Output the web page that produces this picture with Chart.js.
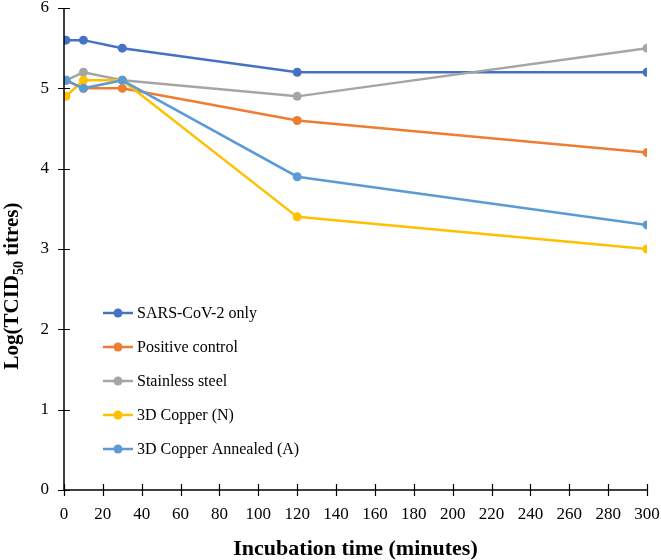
<!DOCTYPE html>
<html>
<head>
<meta charset="utf-8">
<script src="https://cdn.jsdelivr.net/npm/chart.js@4.4.1/dist/chart.umd.min.js"></script>
<style>
  html, body { margin: 0; padding: 0; background: #fff; }
  #wrap { width: 661px; height: 560px; }
</style>
</head>
<body>
<div id="wrap"><canvas id="chart" width="661" height="560"></canvas></div>
<script>
// incubation times (minutes)
const times = [1, 10, 30, 120, 300];

const seriesNames = ['SARS-CoV-2 only', 'Positive control', 'Stainless steel', '3D Copper (N)', '3D Copper Annealed (A)'];
const sarsOnly   = [5.6, 5.6, 5.5, 5.2, 5.2];
const positive   = [5.1, 5.0, 5.0, 4.6, 4.2];
const stainless  = [5.1, 5.2, 5.1, 4.9, 5.5];
const copperN    = [4.9, 5.1, 5.1, 3.4, 3.0];
const copperA    = [5.1, 5.0, 5.1, 3.9, 3.3];
const colors = ['#4472C4', '#ED7D31', '#A5A5A5', '#FFC000', '#5B9BD5'];

const serif = "'Liberation Serif', 'Times New Roman', serif";

function toPoints(vals) {
    return vals.map((v, i) => ({ x: times[i], y: v }));
}

const allSeries = [sarsOnly, positive, stainless, copperN, copperA];
// later datasets drawn on top
const datasets = allSeries.map((vals, i) => ({
    label: seriesNames[i],
    data: toPoints(vals),
    borderColor: colors[i],
    backgroundColor: colors[i],
    borderWidth: 2.5,
    pointRadius: 4.5,
    pointHoverRadius: 4.5,
    pointBorderWidth: 0,
    tension: 0,
    order: 5 - i
}));

// no automatic label overhang, chart area fixed by layout padding
function fixScale(s, size) {
    if (s.isHorizontal()) s.height = size; else s.width = size;
    s.paddingTop = 0;
    s.paddingBottom = 0;
    s.paddingLeft = 0;
    s.paddingRight = 0;
}

// axis lines, cross ticks, inside legend, axis titles
const decorations = {
    id: 'decorations',
    afterDraw(chart) {
        const ctx = chart.ctx;
        const area = chart.chartArea;
        const xs = chart.scales.x, ys = chart.scales.y;
        ctx.save();
        ctx.strokeStyle = '#000';
        ctx.lineWidth = 1.5;
        ctx.beginPath();
        ctx.moveTo(area.left, area.top);
        ctx.lineTo(area.left, area.bottom);
        ctx.lineTo(area.right, area.bottom);
        ctx.stroke();
        ctx.lineWidth = 1.2;
        ctx.beginPath();
        xs.ticks.forEach(t => {
            const px = Math.round(xs.getPixelForValue(t.value)) + 0.5;
            ctx.moveTo(px, area.bottom - 6);
            ctx.lineTo(px, area.bottom + 6);
        });
        ys.ticks.forEach(t => {
            const py = Math.round(ys.getPixelForValue(t.value)) + 0.5;
            ctx.moveTo(area.left - 6, py);
            ctx.lineTo(area.left + 6, py);
        });
        ctx.stroke();

        // legend inside plot
        const lx = 103, ly0 = 313, step = 34;
        chart.data.datasets.forEach((ds, i) => {
            const y = ly0 + i * step;
            ctx.strokeStyle = ds.borderColor;
            ctx.lineWidth = 2.5;
            ctx.beginPath();
            ctx.moveTo(lx, y);
            ctx.lineTo(lx + 30, y);
            ctx.stroke();
            ctx.fillStyle = ds.borderColor;
            ctx.beginPath();
            ctx.arc(lx + 15, y, 4.5, 0, Math.PI * 2);
            ctx.fill();
            ctx.fillStyle = '#000';
            ctx.font = '16px ' + serif;
            ctx.textBaseline = 'middle';
            ctx.textAlign = 'left';
            ctx.fillText(ds.label, lx + 34, y + 1);
        });

        // x title
        ctx.fillStyle = '#000';
        ctx.font = 'bold 22px ' + serif;
        ctx.textAlign = 'center';
        ctx.textBaseline = 'middle';
        ctx.fillText('Incubation time (minutes)', (area.left + area.right) / 2, 549);

        // y title with subscript
        ctx.translate(13, 286);
        ctx.rotate(-Math.PI / 2);
        const big = 'bold 21px ' + serif, small = 'bold 14px ' + serif;
        const parts = [['Log(TCID', big, 0], ['50', small, 6], [' titres)', big, 0]];
        let w = 0;
        parts.forEach(p => { ctx.font = p[1]; w += ctx.measureText(p[0]).width; });
        let x = -w / 2;
        ctx.textAlign = 'left';
        parts.forEach(p => {
            ctx.font = p[1];
            ctx.fillText(p[0], x, p[2]);
            x += ctx.measureText(p[0]).width;
        });
        ctx.restore();
    }
};

new Chart(document.getElementById('chart'), {
    type: 'line',
    data: { datasets: datasets },
    options: {
        responsive: false,
        animation: false,
        layout: { autoPadding: false, padding: { left: 0, right: 14, top: 8, bottom: 0 } },
        plugins: {
            legend: { display: false },
            tooltip: { enabled: false }
        },
        scales: {
            x: {
                type: 'linear',
                min: 0, max: 300,
                afterFit: s => fixScale(s, 70),
                ticks: { stepSize: 20, color: '#000', font: { family: serif, size: 17 }, padding: 14, maxRotation: 0, autoSkip: false },
                grid: { display: false, drawTicks: false },
                border: { display: false }
            },
            y: {
                min: 0, max: 6,
                afterFit: s => fixScale(s, 64),
                ticks: { stepSize: 1, color: '#000', font: { family: serif, size: 17 }, padding: 15 },
                grid: { display: false, drawTicks: false },
                border: { display: false }
            }
        }
    },
    plugins: [decorations]
});
</script>
</body>
</html>
